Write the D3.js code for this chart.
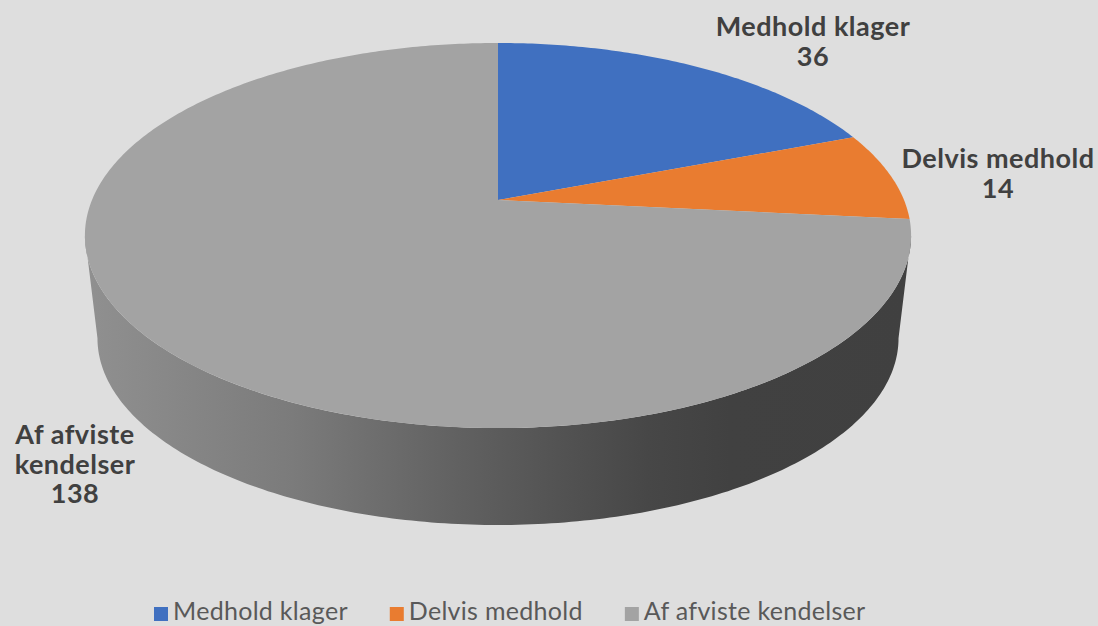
<!DOCTYPE html>
<html>
<head>
<meta charset="utf-8">
<script src="https://cdn.jsdelivr.net/npm/d3@7"></script>
<style>
  html, body { margin: 0; padding: 0; background: #dedede; }
  svg { display: block; }
</style>
</head>
<body>
<svg id="chart" width="1098" height="626"></svg>
<script>
// ---- data ----
const categories = ["Medhold klager", "Delvis medhold", "Af afviste kendelser"];
const values = [36, 14, 138];
const colors = ["#4070c0", "#e97c30", "#a3a3a3"];
const labelLines = [["Medhold klager", "36"], ["Delvis medhold", "14"], ["Af afviste", "kendelser", "138"]];

// ---- layout / style ----
const W = 1098, H = 626;
const cx = 498, cy = 200;          // projected pie centre
const a = 406, b = 186, k = 0.1845; // perspective projection parameters
const vanish = { x: 498, y: 3616 }, depthScale = 0.9696;
const labelPos = [ { x: 813, y: 36 }, { x: 998, y: 168 }, { x: 75, y: 444 } ];
const labelLH = 29.5;

const svg = d3.select("#chart");
svg.append("rect").attr("width", W).attr("height", H).attr("fill", "#dedede");

// projection of a point on the unit disc (angle clockwise from 12 o'clock)
function proj(phi, r = 1) {
  const X = r * Math.sin(phi), Z = -r * Math.cos(phi);
  const w = 1 - k * Z;
  return [cx + a * X / w, cy + b * Z / w];
}
function projBottom(phi) {
  const p = proj(phi);
  return [vanish.x + depthScale * (p[0] - vanish.x), vanish.y + depthScale * (p[1] - vanish.y)];
}

const pie = d3.pie().sort(null).value(d => d)(values);
const line = d3.line();

// side (front visible part): silhouette angles where sin(theta)=k
const phiR = Math.acos(-k), phiL = 2 * Math.PI - Math.acos(-k);
const sideTop = d3.range(0, 201).map(i => proj(phiR + (phiL - phiR) * i / 200));
const sideBot = d3.range(0, 201).map(i => projBottom(phiL - (phiL - phiR) * i / 200));

const defs = svg.append("defs");
const grad = defs.append("linearGradient").attr("id", "sideGrad")
  .attr("gradientUnits", "userSpaceOnUse").attr("x1", 86).attr("x2", 912).attr("y1", 0).attr("y2", 0);
[[0, "#909090"], [0.25, "#7b7b7b"], [0.45, "#616161"], [0.58, "#525252"], [0.68, "#474747"], [0.78, "#414141"], [1, "#404040"]]
  .forEach(([o, c]) => grad.append("stop").attr("offset", o).attr("stop-color", c));

svg.append("path")
  .attr("d", line(sideTop.concat(sideBot)) + "Z")
  .attr("fill", "url(#sideGrad)");

// top face slices
svg.append("g").selectAll("path").data(pie).join("path")
  .attr("d", d => {
    const n = Math.max(8, Math.ceil((d.endAngle - d.startAngle) * 80));
    const pts = [[cx, cy]].concat(d3.range(0, n + 1).map(i => proj(d.startAngle + (d.endAngle - d.startAngle) * i / n)));
    return line(pts) + "Z";
  })
  .attr("fill", (d, i) => colors[i]);

// data labels
const lg = svg.append("g").attr("font-family", "Lato, 'Noto Sans', sans-serif")
  .attr("font-weight", "bold").attr("font-size", 27).attr("letter-spacing", 0.5)
  .attr("fill", "#404040").attr("text-anchor", "middle");
labelLines.forEach((lines, i) => {
  const t = lg.append("text").attr("x", labelPos[i].x).attr("y", labelPos[i].y);
  lines.forEach((s, j) => t.append("tspan").attr("x", labelPos[i].x).attr("dy", j === 0 ? 0 : labelLH).text(s));
});

// legend
const leg = svg.append("g").attr("font-family", "Lato, 'Noto Sans', sans-serif").attr("font-size", 25)
  .attr("letter-spacing", 0.3).attr("fill", "#595959");
let lx = 154;
categories.forEach((c, i) => {
  leg.append("rect").attr("x", lx).attr("y", 607).attr("width", 14).attr("height", 14).attr("fill", colors[i]);
  const t = leg.append("text").attr("x", lx + 19).attr("y", 620).text(c);
  lx += 19 + t.node().getComputedTextLength() + 42;
});
</script>
</body>
</html>
